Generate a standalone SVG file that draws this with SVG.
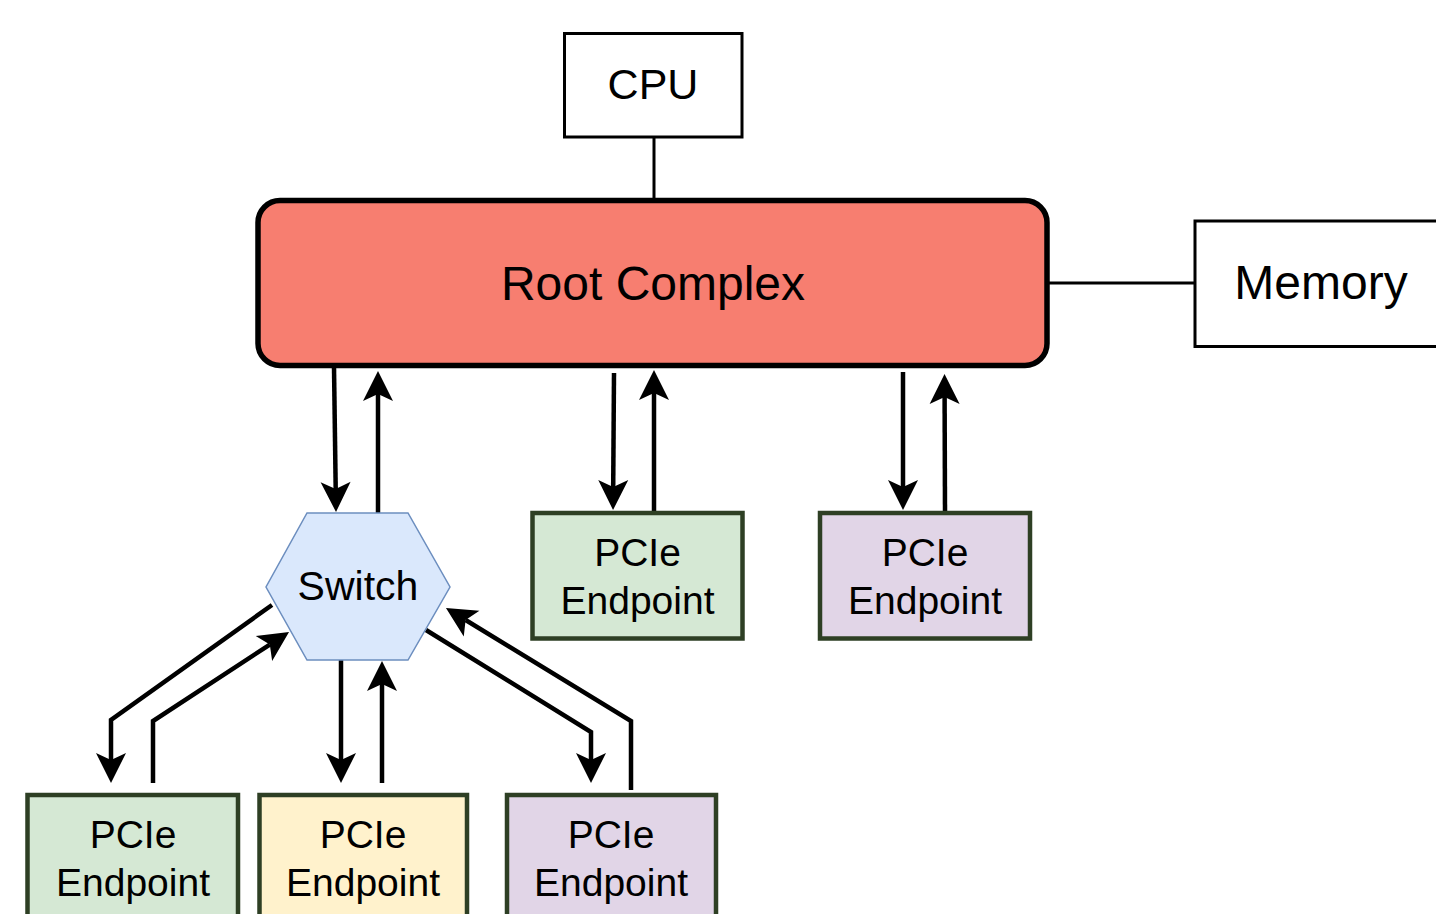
<svg xmlns="http://www.w3.org/2000/svg" width="1436" height="914" viewBox="0 0 1436 914">
<style>
text{font-family:"Liberation Sans",Arial,sans-serif;fill:#000;text-anchor:middle}
.plain{fill:#fff;stroke:#000;stroke-width:3}
.ep{stroke:#2E3F24;stroke-width:4.5}
.ep text,.lbl{font-size:39px}
.wire{fill:none;stroke:#000;stroke-width:3}
.arr{fill:none;stroke:#000;stroke-width:4.5;marker-end:url(#ah)}
</style>
<defs>
<marker id="ah" viewBox="-8 -17 34 34" markerWidth="34" markerHeight="34" refX="0" refY="0" orient="auto" markerUnits="userSpaceOnUse">
<path d="M23,0 L-7,-15 L0,0 L-7,15 Z" fill="#000"/>
</marker>
</defs>
<rect width="1436" height="914" fill="#fff"/>
<g id="connectors">
<line class="wire" x1="654" y1="137" x2="654" y2="200"/>
<line class="wire" x1="1049" y1="283" x2="1195" y2="283"/>
<polyline class="arr" points="334,367 335.7,489"/>
<polyline class="arr" points="378,513 378,394"/>
<polyline class="arr" points="614,373 613.2,487"/>
<polyline class="arr" points="654,513 654,393"/>
<polyline class="arr" points="903,372 903,487"/>
<polyline class="arr" points="945,513 944.6,397"/>
<polyline class="arr" points="272,605 111,720 111,760"/>
<polyline class="arr" points="153,783 153,721 269.8,644.6"/>
<polyline class="arr" points="341,660 341,760"/>
<polyline class="arr" points="382,783 382,684"/>
<polyline class="arr" points="426,630 591,732 591,760"/>
<polyline class="arr" points="631,790 631,721 465.6,620"/>
</g>
<g id="cpu">
<rect class="plain" x="564.5" y="33.5" width="177.5" height="103.5"/>
<text x="653" y="99" font-size="43">CPU</text>
</g>
<g id="root-complex">
<rect x="258" y="200.5" width="789" height="165" rx="22" ry="22" fill="#F77E70" stroke="#000" stroke-width="5.5"/>
<text x="653" y="300" font-size="48">Root Complex</text>
</g>
<g id="memory">
<rect class="plain" x="1195" y="221" width="260" height="125.5"/>
<text x="1321" y="299" font-size="48">Memory</text>
</g>
<g id="switch">
<polygon points="307,513 408,513 450,587 408,660 307,660 266,587" fill="#DAE8FC" stroke="#6C8EBF" stroke-width="1.5"/>
<text x="358" y="600" font-size="41">Switch</text>
</g>
<g id="ep-mid" class="ep">
<rect x="532.5" y="513" width="210" height="125.5" fill="#D5E8D4"/>
<text x="637.5" y="566" stroke="none">PCIe</text>
<text x="637.5" y="614" stroke="none">Endpoint</text>
</g>
<g id="ep-right" class="ep">
<rect x="820" y="513" width="210" height="125.5" fill="#E1D5E7"/>
<text x="925" y="566" stroke="none">PCIe</text>
<text x="925" y="614" stroke="none">Endpoint</text>
</g>
<g id="ep-bl" class="ep">
<rect x="27.5" y="795" width="210.5" height="140" fill="#D5E8D4"/>
<text x="133" y="848" stroke="none">PCIe</text>
<text x="133" y="896" stroke="none">Endpoint</text>
</g>
<g id="ep-bm" class="ep">
<rect x="259.5" y="795" width="207.5" height="140" fill="#FFF2CC"/>
<text x="363" y="848" stroke="none">PCIe</text>
<text x="363" y="896" stroke="none">Endpoint</text>
</g>
<g id="ep-br" class="ep">
<rect x="507" y="795" width="209" height="140" fill="#E1D5E7"/>
<text x="611" y="848" stroke="none">PCIe</text>
<text x="611" y="896" stroke="none">Endpoint</text>
</g>
</svg>
